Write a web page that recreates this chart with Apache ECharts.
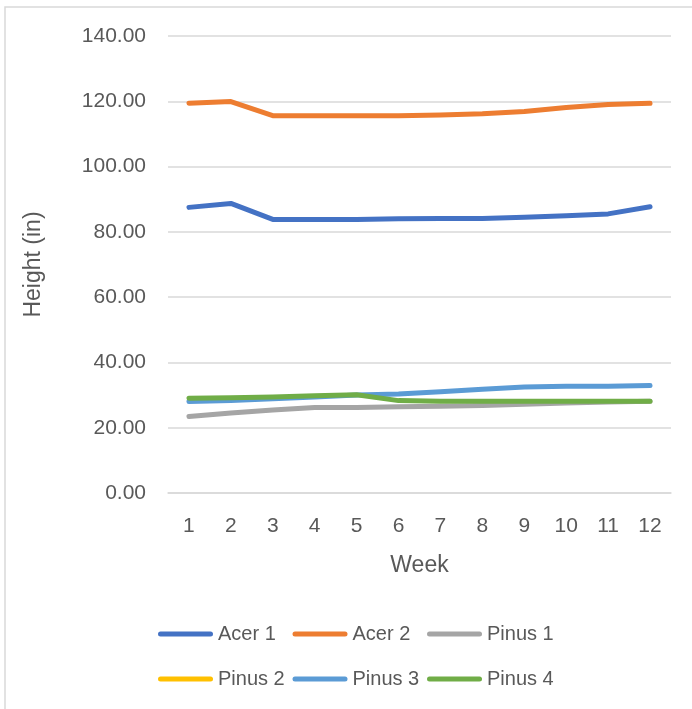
<!DOCTYPE html>
<html>
<head>
<meta charset="utf-8">
<style>
  html, body { margin: 0; padding: 0; background: #ffffff; }
  #chart { width: 692px; height: 709px; }
</style>
<script src="https://cdn.jsdelivr.net/npm/echarts@6/dist/echarts.min.js"></script>
</head>
<body>
<div id="chart"></div>
<script>
// Weekly tree heights (inches)
const weeks = ['1', '2', '3', '4', '5', '6', '7', '8', '9', '10', '11', '12'];

const acer1  = [87.5, 88.7, 83.8, 83.8, 83.8, 84.0, 84.1, 84.1, 84.5, 84.9, 85.5, 87.7];
const acer2  = [119.4, 119.9, 115.6, 115.6, 115.6, 115.6, 115.8, 116.2, 116.9, 118.1, 119.0, 119.4];
const pinus1 = [23.4, 24.5, 25.4, 26.2, 26.2, 26.4, 26.6, 26.8, 27.2, 27.6, 27.9, 28.1];
const pinus2 = [null, null, null, null, null, null, null, null, null, null, null, null];
const pinus3 = [28.0, 28.3, 28.9, 29.4, 30.0, 30.3, 31.0, 31.8, 32.5, 32.7, 32.7, 32.9];
const pinus4 = [29.0, 29.2, 29.4, 29.8, 30.1, 28.3, 28.1, 28.1, 28.1, 28.1, 28.1, 28.1];

const seriesNames = ['Acer 1', 'Acer 2', 'Pinus 1', 'Pinus 2', 'Pinus 3', 'Pinus 4'];
const seriesData  = [acer1, acer2, pinus1, pinus2, pinus3, pinus4];
const palette = ['#4472C4', '#ED7D31', '#A5A5A5', '#FFC000', '#5B9BD5', '#70AD47'];

const yTicks = { min: 0, max: 140, interval: 20 };

const FONT = 'Liberation Sans';
const TEXT = '#595959';
const GRID = '#d9d9d9';

const capsule = 'path://M2.5,0H52.5A2.5,2.5,0,0,1,52.5,5H2.5A2.5,2.5,0,0,1,2.5,0Z';

// Legend laid out as a 3-column grid, one legend component per cell
const legendCols = [153, 287.5, 422];
const legendRows = [619, 664];

const legends = seriesNames.map((name, i) => ({
  data: [name],
  left: legendCols[i % 3],
  top: legendRows[Math.floor(i / 3)],
  icon: capsule,
  itemWidth: 55,
  itemHeight: 5,
  textStyle: { fontFamily: FONT, fontSize: 20, color: TEXT }
}));

const chart = echarts.init(document.getElementById('chart'), null, { renderer: 'canvas' });

chart.setOption({
  animation: false,
  color: palette,
  graphic: [{
    type: 'rect',
    shape: { x: 5, y: 7, width: 720, height: 740 },
    style: { fill: 'none', stroke: GRID, lineWidth: 1.5 },
    silent: true
  }],
  grid: { left: 168, right: 21, top: 36, bottom: 216 },
  legend: legends,
  xAxis: {
    type: 'category',
    data: weeks,
    boundaryGap: true,
    name: 'Week',
    nameLocation: 'middle',
    nameGap: 61,
    nameTextStyle: { fontFamily: FONT, fontSize: 23, color: TEXT },
    axisLine: { lineStyle: { color: GRID, width: 1.5 } },
    axisTick: { show: false },
    axisLabel: { fontFamily: FONT, fontSize: 21, color: TEXT, margin: 23 }
  },
  yAxis: {
    type: 'value',
    min: yTicks.min,
    max: yTicks.max,
    interval: yTicks.interval,
    name: 'Height (in)',
    nameLocation: 'middle',
    nameGap: 123,
    nameTextStyle: { fontFamily: FONT, fontSize: 23, color: TEXT },
    axisLine: { show: false },
    axisTick: { show: false },
    splitLine: { lineStyle: { color: GRID, width: 1.5 } },
    axisLabel: {
      fontFamily: FONT, fontSize: 21, color: TEXT, margin: 22,
      formatter: v => v.toFixed(2)
    }
  },
  series: seriesNames.map((name, i) => ({
    name: name,
    type: 'line',
    data: seriesData[i],
    symbol: 'none',
    showSymbol: false,
    lineStyle: { width: 5, color: palette[i], cap: 'round', join: 'round' },
    itemStyle: { color: palette[i] }
  }))
});
</script>
</body>
</html>
